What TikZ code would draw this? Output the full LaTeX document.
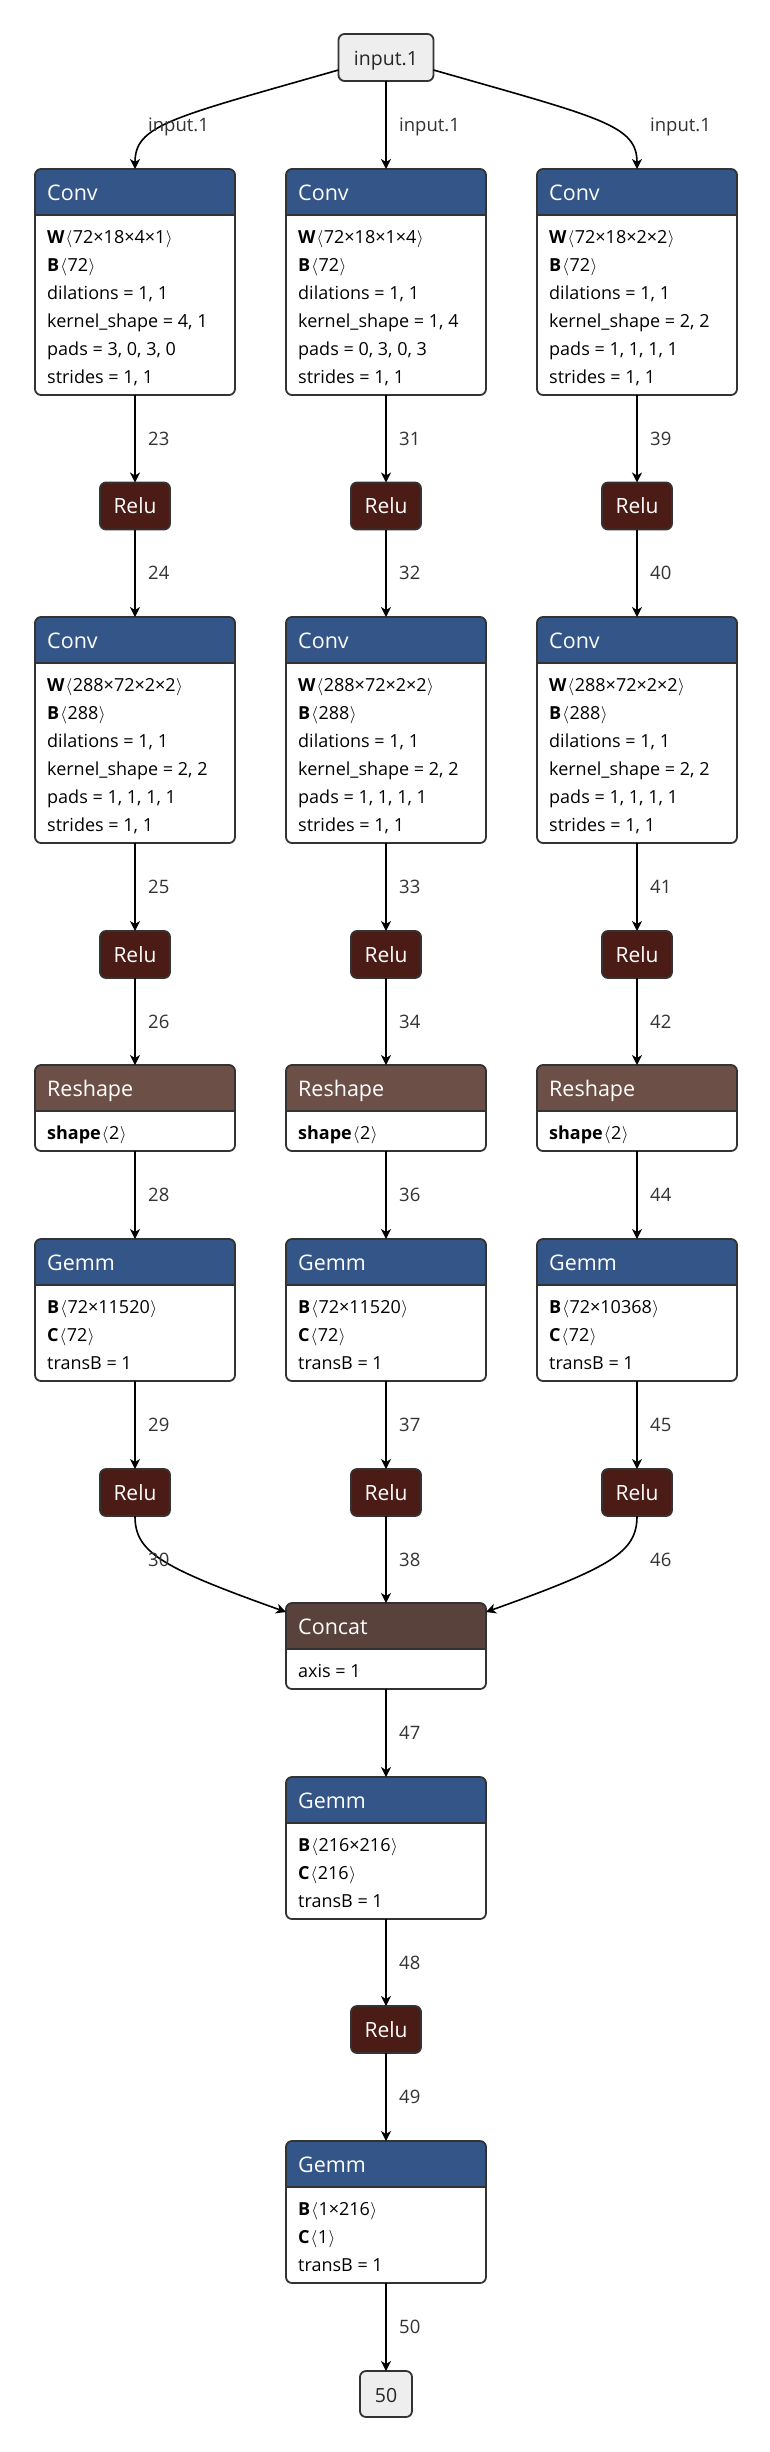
\documentclass[tikz,border=0pt]{standalone}
\usepackage{fontspec}
\setmainfont{Open Sans}
\usetikzlibrary{arrows.meta}
\definecolor{cborder}{HTML}{333333}
\definecolor{clayer}{HTML}{335588}
\definecolor{cact}{HTML}{4B1B16}
\definecolor{cshape}{HTML}{6C4F47}
\definecolor{ctensor}{HTML}{59423B}
\definecolor{cio}{HTML}{EEEEEE}
\definecolor{clbl}{HTML}{333333}
\tikzset{
  opbody/.style={rectangle, fill=white, rounded corners=6pt, minimum width=200pt, inner sep=0pt, outer sep=0pt},
  sepline/.style={draw=cborder, line width=1.8pt},
  boxline/.style={draw=cborder, line width=1.8pt, rounded corners=6pt},
  hdrtext/.style={anchor=base west, inner sep=0pt, text=white, font=\fontsize{21.5}{25}\selectfont},
  attrtext/.style={anchor=base west, inner sep=0pt, text=black, font=\fontsize{18}{21}\selectfont},
  lbl/.style={anchor=west, inner sep=0pt, text=clbl, text height=13pt, text depth=0pt, font=\fontsize{18.5}{21}\selectfont},
  relubox/.style={rectangle, draw=cborder, line width=1.8pt, fill=cact, rounded corners=6pt, minimum width=70pt, minimum height=47pt, inner sep=0pt, outer sep=0pt, text=white, font=\fontsize{21}{25}\selectfont},
  iobox/.style={rectangle, draw=cborder, line width=1.8pt, fill=cio, rounded corners=6pt, inner sep=0pt, outer sep=0pt, text=black!85, text height=16pt, text depth=0pt, font=\fontsize{19.5}{23}\selectfont},
  edge/.style={draw=black, line width=1.6pt, -{Stealth[length=10pt,width=10pt,inset=3pt]}},
}
\newcommand\opbox[6]{%
  \node[opbody, minimum height={#4-#3}] (#1) at (#2,{(#3+#4)/2}) {};
  \begin{scope}
    \clip[rounded corners=6pt] (#1.north west) rectangle (#1.south east);
    \fill[#5] (#1.north west) rectangle ([yshift=-46pt]#1.north east);
  \end{scope}
  \draw[sepline] ([yshift=-46pt]#1.north west) -- ([yshift=-46pt]#1.north east);
  \draw[boxline] (#1.north west) rectangle (#1.south east);
  \node[hdrtext] (#1-title) at ([xshift=12pt,yshift=-31pt]#1.north west) {#6};
}
\newcommand\attrline[4]{%
  \node[attrtext] (#1-a#2) at ([xshift=12pt,yshift={-74-28*#2}]#1.north west) {\textbf{#3}#4};
}
\newcommand\lan{\kern1pt$\langle$\kern0.5pt}
\newcommand\ran{\kern0.5pt$\rangle$}
\begin{document}
\begin{tikzpicture}[x=1pt,y=-1pt]
\fill[white] (0,0) rectangle (770,2452);
\useasboundingbox (0,0) rectangle (770,2452);

% input
\node[iobox, minimum width=95pt, minimum height=47pt] (in) at (386,57.5) {input.1};

% first conv row
\opbox{c1a}{135}{169}{395}{clayer}{Conv}
\attrline{c1a}{0}{W}{\lan72×18×4×1\ran}
\attrline{c1a}{1}{B}{\lan72\ran}
\attrline{c1a}{2}{}{dilations = 1, 1}
\attrline{c1a}{3}{}{kernel\_shape = 4, 1}
\attrline{c1a}{4}{}{pads = 3, 0, 3, 0}
\attrline{c1a}{5}{}{strides = 1, 1}

\opbox{c1b}{386}{169}{395}{clayer}{Conv}
\attrline{c1b}{0}{W}{\lan72×18×1×4\ran}
\attrline{c1b}{1}{B}{\lan72\ran}
\attrline{c1b}{2}{}{dilations = 1, 1}
\attrline{c1b}{3}{}{kernel\_shape = 1, 4}
\attrline{c1b}{4}{}{pads = 0, 3, 0, 3}
\attrline{c1b}{5}{}{strides = 1, 1}

\opbox{c1c}{637}{169}{395}{clayer}{Conv}
\attrline{c1c}{0}{W}{\lan72×18×2×2\ran}
\attrline{c1c}{1}{B}{\lan72\ran}
\attrline{c1c}{2}{}{dilations = 1, 1}
\attrline{c1c}{3}{}{kernel\_shape = 2, 2}
\attrline{c1c}{4}{}{pads = 1, 1, 1, 1}
\attrline{c1c}{5}{}{strides = 1, 1}

% common column parts
\foreach \k/\x in {a/135,b/386,c/637}{
  \node[relubox] (r1\k) at (\x,506) {Relu};
  \opbox{c2\k}{\x}{617}{843}{clayer}{Conv}
  \attrline{c2\k}{0}{W}{\lan288×72×2×2\ran}
  \attrline{c2\k}{1}{B}{\lan288\ran}
  \attrline{c2\k}{2}{}{dilations = 1, 1}
  \attrline{c2\k}{3}{}{kernel\_shape = 2, 2}
  \attrline{c2\k}{4}{}{pads = 1, 1, 1, 1}
  \attrline{c2\k}{5}{}{strides = 1, 1}
  \node[relubox] (r2\k) at (\x,954.5) {Relu};
  \opbox{s\k}{\x}{1065}{1151}{cshape}{Reshape}
  \attrline{s\k}{0}{shape}{\lan2\ran}
  \node[relubox] (r3\k) at (\x,1492.5) {Relu};
}

\opbox{ga}{135}{1239}{1381}{clayer}{Gemm}
\attrline{ga}{0}{B}{\lan72×11520\ran}
\attrline{ga}{1}{C}{\lan72\ran}
\attrline{ga}{2}{}{transB = 1}

\opbox{gb}{386}{1239}{1381}{clayer}{Gemm}
\attrline{gb}{0}{B}{\lan72×11520\ran}
\attrline{gb}{1}{C}{\lan72\ran}
\attrline{gb}{2}{}{transB = 1}

\opbox{gc}{637}{1239}{1381}{clayer}{Gemm}
\attrline{gc}{0}{B}{\lan72×10368\ran}
\attrline{gc}{1}{C}{\lan72\ran}
\attrline{gc}{2}{}{transB = 1}

% merge part
\opbox{cat}{386}{1603}{1689}{ctensor}{Concat}
\attrline{cat}{0}{}{axis = 1}

\opbox{g4}{386}{1777}{1919}{clayer}{Gemm}
\attrline{g4}{0}{B}{\lan216×216\ran}
\attrline{g4}{1}{C}{\lan216\ran}
\attrline{g4}{2}{}{transB = 1}

\node[relubox] (r4) at (386,2029.5) {Relu};

\opbox{g5}{386}{2141}{2283}{clayer}{Gemm}
\attrline{g5}{0}{B}{\lan1×216\ran}
\attrline{g5}{1}{C}{\lan1\ran}
\attrline{g5}{2}{}{transB = 1}

\node[iobox, minimum width=52pt, minimum height=46pt] (out) at (386,2394) {50};

% edges from input
\draw[edge] ([yshift=-12.5pt]in.west) .. controls +(-168,48) and +(0,-44) .. (c1a.north);
\draw[edge] (in.south) -- (c1b.north);
\draw[edge] ([yshift=-12.5pt]in.east) .. controls +(168,48) and +(0,-44) .. (c1c.north);

% column edges
\foreach \k in {a,b,c}{
  \draw[edge] (c1\k.south) -- (r1\k.north);
  \draw[edge] (r1\k.south) -- (c2\k.north);
  \draw[edge] (c2\k.south) -- (r2\k.north);
  \draw[edge] (r2\k.south) -- (s\k.north);
  \draw[edge] (s\k.south) -- (g\k.north);
  \draw[edge] (g\k.south) -- (r3\k.north);
}

% merge edges
\draw[edge] (r3a.south) .. controls +(0,36) and +(-126,-45) .. ([yshift=-9pt]cat.north west);
\draw[edge] (r3b.south) -- (cat.north);
\draw[edge] (r3c.south) .. controls +(0,36) and +(126,-45) .. ([yshift=-9pt]cat.north east);
\draw[edge] (cat.south) -- (g4.north);
\draw[edge] (g4.south) -- (r4.north);
\draw[edge] (r4.south) -- (g5.north);
\draw[edge] (g5.south) -- (out.north);

% edge labels
\node[lbl] (l1a) at (148,125) {input.1};
\node[lbl] (l1b) at (399,125) {input.1};
\node[lbl] (l1c) at (650,125) {input.1};
\foreach \x/\la/\lb/\lc/\ld/\le/\lf/\lg in {148/23/24/25/26/28/29/30, 399/31/32/33/34/36/37/38, 650/39/40/41/42/44/45/46}{
  \node[lbl] (e\la) at (\x,438.75) {\la};
  \node[lbl] (e\lb) at (\x,573) {\lb};
  \node[lbl] (e\lc) at (\x,887) {\lc};
  \node[lbl] (e\ld) at (\x,1021.5) {\ld};
  \node[lbl] (e\le) at (\x,1195) {\le};
  \node[lbl] (e\lf) at (\x,1425) {\lf};
  \node[lbl] (e\lg) at (\x,1559.5) {\lg};
}
\node[lbl] (e47) at (399,1733) {47};
\node[lbl] (e48) at (399,1962.5) {48};
\node[lbl] (e49) at (399,2097) {49};
\node[lbl] (e50) at (399,2327) {50};
\end{tikzpicture}
\end{document}
